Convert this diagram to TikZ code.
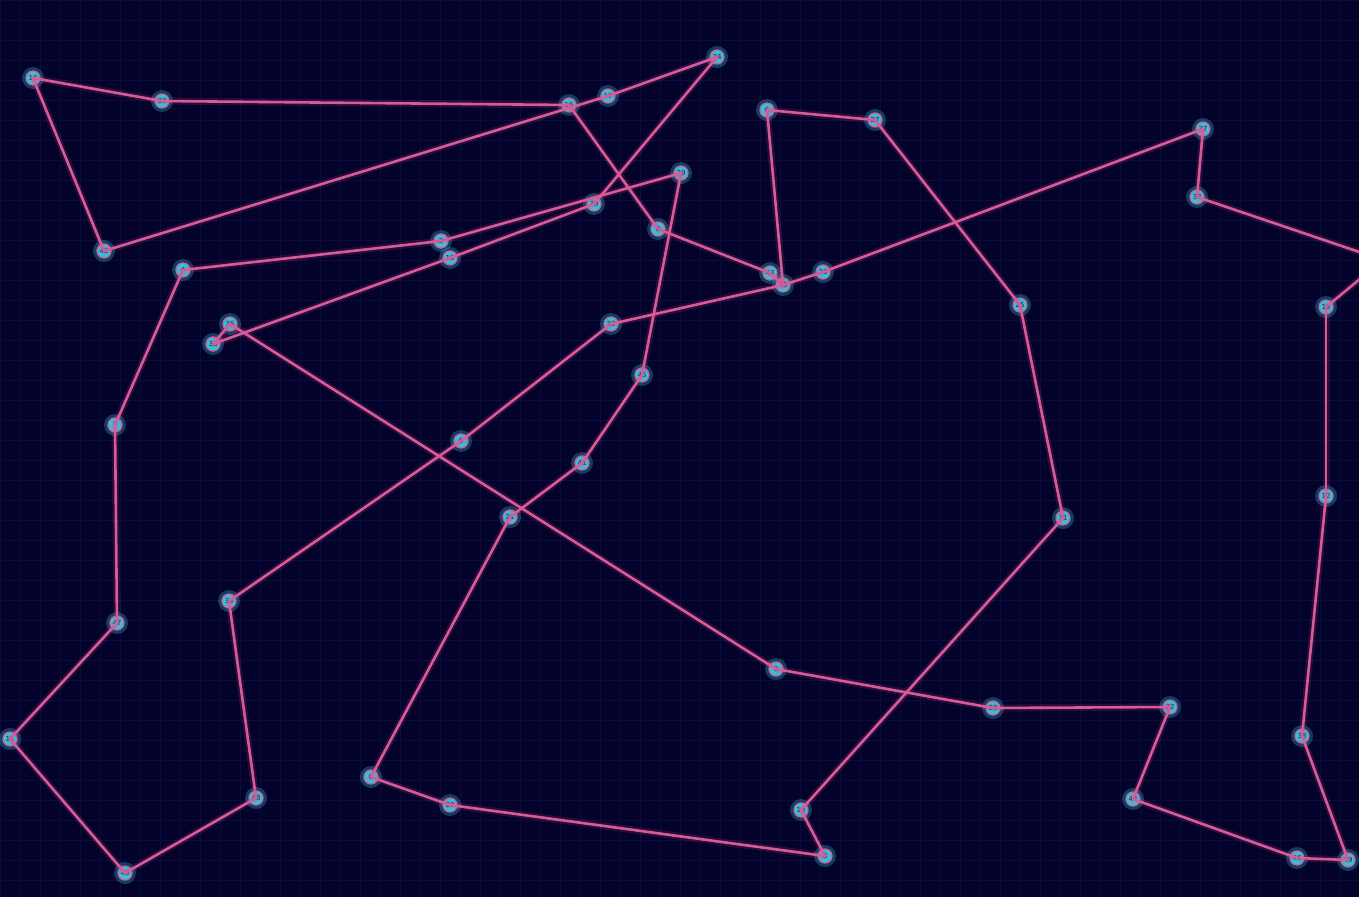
\documentclass[tikz,border=0pt]{standalone}
\usepackage{fontspec}
\setmainfont{DejaVu Sans}
\definecolor{bg}{RGB}{3,2,42}
\definecolor{gridc}{RGB}{12,12,60}
\definecolor{edgec}{RGB}{214,92,152}
\definecolor{glowc}{RGB}{235,60,140}
\definecolor{nodec}{RGB}{40,200,222}
\definecolor{labc}{RGB}{20,30,70}
\tikzset{
  city/.style={circle, fill=nodec, draw=edgec, line width=1.3pt, minimum size=14pt, inner sep=0pt,
    font=\fontsize{7}{8}\selectfont, text=labc},
  glowe/.style={draw=glowc, line width=7pt, opacity=0.16, line cap=round},
  tour/.style={draw=edgec, line width=2.6pt, line cap=round},
}
\begin{document}
\begin{tikzpicture}[x=1pt,y=-1pt]
\useasboundingbox (0,0) rectangle (1359,897);
\fill[bg] (0,0) rectangle (1359,897);
\begin{scope}
\clip (0,0) rectangle (1359,897);
\foreach \g in {0,20,...,1360} \draw[gridc, line width=0.7pt] (\g,0) -- (\g,897);
\foreach \g in {0,20,...,900} \draw[gridc, line width=0.7pt] (0,\g) -- (1359,\g);
% halos
\foreach \x/\y in {33/78,162/101,569/105,608/96,717/57,767/110,875/120,1203/129,1197/197,104/251,
441/241,450/258,183/270,230/324,213/344,681/173,594/204,658/229,770/273,783/285,823/272,611/324,
1020/305,1326/307,642/375,461/441,582/463,510/517,1063/518,1326/496,115/425,229/601,117/623,10/739,
256/798,125/873,371/777,450/805,776/669,993/708,1170/707,1133/799,801/810,825/856,1302/736,1297/858,1348/860}
  \fill[nodec, opacity=0.3] (\x,\y) circle (11);
\node[city] (n14) at (33,78) {14};
\node[city] (n30) at (162,101) {30};
\node[city] (n16) at (569,105) {16};
\node[city] (n17) at (608,96) {17};
\node[city] (n24) at (717,57) {24};
\node[city] (n6) at (767,110) {6};
\node[city] (n27) at (875,120) {27};
\node[city] (n37) at (1203,129) {37};
\node[city] (n33) at (1197,197) {33};
\node[city] (n42) at (104,251) {42};
\node[city] (n2) at (441,241) {2};
\node[city] (n10) at (450,258) {10};
\node[city] (n4) at (183,270) {4};
\node[city] (n35) at (230,324) {35};
\node[city] (n36) at (213,344) {36};
\node[city] (n29) at (681,173) {29};
\node[city] (n39) at (594,204) {39};
\node[city] (n8) at (658,229) {8};
\node[city] (n43) at (770,273) {43};
\node[city] (n18) at (783,285) {18};
\node[city] (n26) at (823,272) {26};
\node[city] (n23) at (611,324) {23};
\node[city] (n25) at (1020,305) {25};
\node[city] (n19) at (1326,307) {19};
\node[city] (n45) at (642,375) {45};
\node[city] (n5) at (461,441) {5};
\node[city] (n41) at (582,463) {41};
\node[city] (n21) at (510,517) {21};
\node[city] (n31) at (1063,518) {31};
\node[city] (n12) at (1326,496) {12};
\node[city] (n7) at (115,425) {7};
\node[city] (n34) at (229,601) {34};
\node[city] (n47) at (117,623) {47};
\node[city] (n11) at (10,739) {11};
\node[city] (n48) at (256,798) {48};
\node[city] (n40) at (125,873) {40};
\node[city] (n0) at (371,777) {0};
\node[city] (n20) at (450,805) {20};
\node[city] (n9) at (776,669) {9};
\node[city] (n28) at (993,708) {28};
\node[city] (n32) at (1170,707) {32};
\node[city] (n44) at (1133,799) {44};
\node[city] (n13) at (801,810) {13};
\node[city] (n3) at (825,856) {3};
\node[city] (n38) at (1302,736) {38};
\node[city] (n46) at (1297,858) {46};
\node[city] (n49) at (1348,860) {49};
\coordinate (off) at (1383,260);
% edges
\foreach \a/\b in {n14/n30,n30/n16,n16/n8,n8/n43,n43/n18,n18/n6,n6/n27,n27/n25,n25/n31,n31/n13,n13/n3,
n3/n20,n20/n0,n0/n21,n21/n41,n41/n45,n45/n29,n29/n2,n2/n4,n4/n7,n7/n47,n47/n11,n11/n40,n40/n48,n48/n34,
n34/n5,n5/n23,n23/n18,n18/n26,n26/n37,n37/n33,n33/off,off/n19,n19/n12,n12/n38,n38/n49,n49/n46,n46/n44,
n44/n32,n32/n28,n28/n9,n9/n35,n35/n36,n36/n10,n10/n39,n39/n24,n24/n17,n17/n42,n42/n14}
{
  \path[glowe] (\a.center) -- (\b.center);
  \path[tour] (\a.center) -- (\b.center);
}
\end{scope}
\end{tikzpicture}
\end{document}
